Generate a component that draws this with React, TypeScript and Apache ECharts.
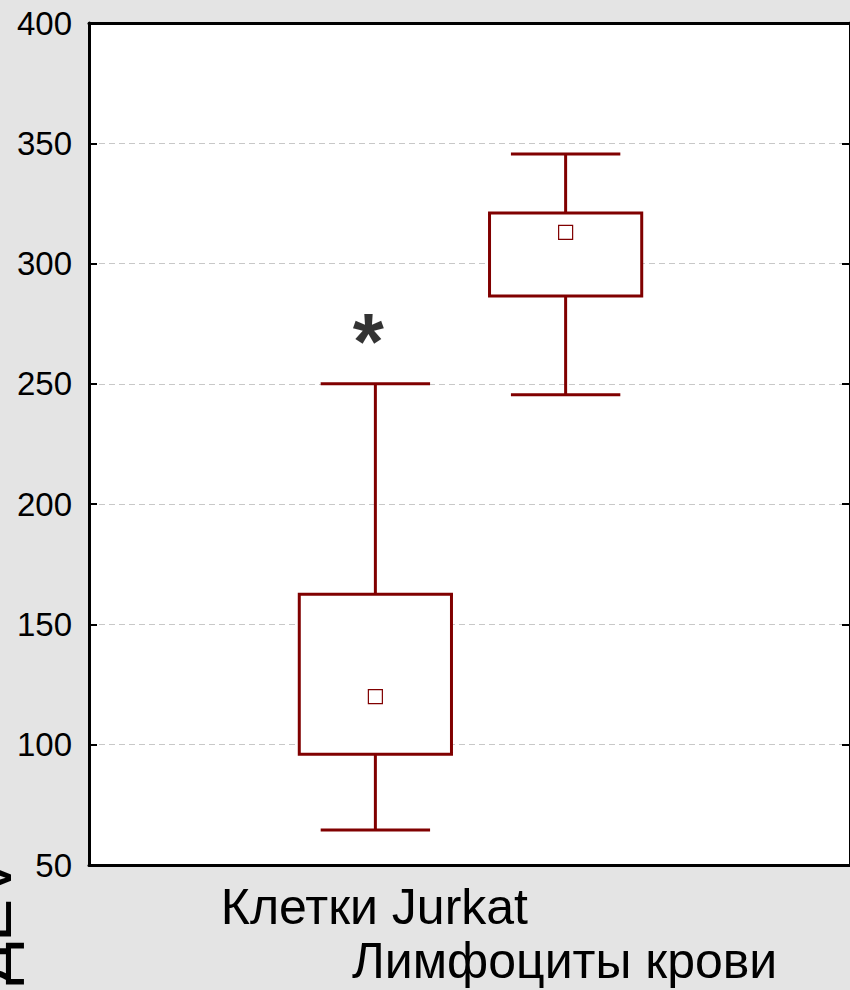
import React, { useEffect, useRef } from "react";
import * as echarts from "echarts";

const categories = ["", "Клетки Jurkat", "Лимфоциты крови", ""];
const groupIndex = [1, 2];
const whiskerLow = [64.5, 245.5];
const quartile1 = [96, 286.5];
const quartile3 = [162.5, 321];
const whiskerHigh = [250, 345.5];
const means = [120, 313];
const yMin = 50;
const yMax = 400;
const yStep = 50;
const markText = "*";
const markPoint = [1, 267.5];
const sideTitle = "ДЕV";

const RED = "#800000";
const FONT = "'Liberation Sans', Arial, sans-serif";

export default function App() {
  const ref = useRef<HTMLDivElement>(null);
  useEffect(() => {
    if (!ref.current) return;
    const chart = echarts.init(ref.current, null, { renderer: "svg" });
    const boxData = groupIndex.map((g, i) => [
      g,
      whiskerLow[i],
      quartile1[i],
      quartile3[i],
      whiskerHigh[i],
      means[i],
    ]);
    const axisLineStyle = { color: "#000", width: 3 };
    const tickStyle = { color: "#000", width: 2 };
    chart.setOption({
      animation: false,
      backgroundColor: "#e4e4e4",
      textStyle: { fontFamily: FONT },
      grid: {
        left: 89,
        top: 23,
        width: 764,
        height: 842,
        show: true,
        backgroundColor: "#ffffff",
        borderWidth: 0,
      },
      xAxis: [
        {
          type: "category",
          data: categories,
          position: "bottom",
          boundaryGap: true,
          axisLine: { lineStyle: axisLineStyle },
          axisTick: { inside: true, alignWithLabel: true, length: 8, lineStyle: tickStyle },
          axisLabel: {
            interval: 0,
            hideOverlap: false,
            color: "#000",
            fontSize: 50,
            fontFamily: FONT,
            margin: 15,
            lineHeight: 54,
            formatter: (v: string, i: number) => (i === 2 ? "\n" + v : v),
          },
          splitLine: { show: false },
        },
        {
          type: "category",
          data: categories,
          position: "top",
          boundaryGap: true,
          axisLine: { lineStyle: axisLineStyle },
          axisTick: { inside: true, alignWithLabel: true, length: 8, lineStyle: tickStyle },
          axisLabel: { show: false },
          splitLine: { show: false },
        },
      ],
      yAxis: [
        {
          type: "value",
          min: yMin,
          max: yMax,
          interval: yStep,
          position: "left",
          axisLine: { show: true, lineStyle: axisLineStyle },
          axisTick: { show: true, inside: true, length: 8, lineStyle: tickStyle },
          axisLabel: { color: "#000", fontSize: 33, fontFamily: FONT, margin: 17 },
          splitLine: {
            show: true,
            lineStyle: { color: "#c8c8c8", width: 1, type: [6, 4] },
          },
        },
        {
          type: "value",
          min: yMin,
          max: yMax,
          interval: yStep,
          position: "right",
          axisLine: { show: true, lineStyle: axisLineStyle },
          axisTick: { show: true, inside: true, length: 8, lineStyle: tickStyle },
          axisLabel: { show: false },
          splitLine: { show: false },
        },
      ],
      graphic: [
        {
          type: "text",
          x: 21,
          y: 985,
          rotation: Math.PI / 2,
          style: {
            text: sideTitle,
            fontSize: 64,
            fontFamily: FONT,
            fill: "#000",
            align: "left",
            verticalAlign: "bottom",
          },
        },
      ],
      series: [
        {
          type: "custom",
          xAxisIndex: 0,
          yAxisIndex: 0,
          data: boxData,
          encode: { x: 0, y: [1, 2, 3, 4, 5] },
          renderItem: (params: any, api: any) => {
            const x = api.value(0);
            const pLow = api.coord([x, api.value(1)]);
            const pQ1 = api.coord([x, api.value(2)]);
            const pQ3 = api.coord([x, api.value(3)]);
            const pHigh = api.coord([x, api.value(4)]);
            const pMean = api.coord([x, api.value(5)]);
            const band = api.size([1, 0])[0];
            const bw = band * 0.8;
            const cw = band * 0.575;
            const cx = pLow[0] + 1;
            const ls = { stroke: RED, lineWidth: 3 };
            const m = 14;
            return {
              type: "group",
              children: [
                { type: "line", shape: { x1: cx, y1: pHigh[1], x2: cx, y2: pQ3[1] }, style: ls },
                { type: "line", shape: { x1: cx, y1: pQ1[1], x2: cx, y2: pLow[1] }, style: ls },
                { type: "line", shape: { x1: cx - cw / 2, y1: pHigh[1], x2: cx + cw / 2, y2: pHigh[1] }, style: ls },
                { type: "line", shape: { x1: cx - cw / 2, y1: pLow[1], x2: cx + cw / 2, y2: pLow[1] }, style: ls },
                {
                  type: "rect",
                  shape: { x: cx - bw / 2, y: pQ3[1], width: bw, height: pQ1[1] - pQ3[1] },
                  style: { fill: "#fff", stroke: RED, lineWidth: 3 },
                },
                {
                  type: "rect",
                  shape: { x: cx - m / 2, y: pMean[1] - m / 2, width: m, height: m },
                  style: { fill: "#fff", stroke: RED, lineWidth: 1.2 },
                },
              ],
            };
          },
          z: 5,
        },
        {
          type: "scatter",
          xAxisIndex: 0,
          yAxisIndex: 0,
          data: [markPoint],
          symbolSize: 0,
          silent: true,
          label: {
            show: true,
            formatter: () => markText,
            position: "inside",
            offset: [-6, 0],
            color: "#000",
            fontSize: 80,
            fontWeight: "bold",
            fontFamily: FONT,
          },
          z: 6,
        },
      ],
    });
    return () => chart.dispose();
  }, []);
  return (
    <div
      ref={ref}
      style={{ position: "absolute", left: 0, top: 0, width: 850, height: 990, overflow: "hidden" }}
    />
  );
}
